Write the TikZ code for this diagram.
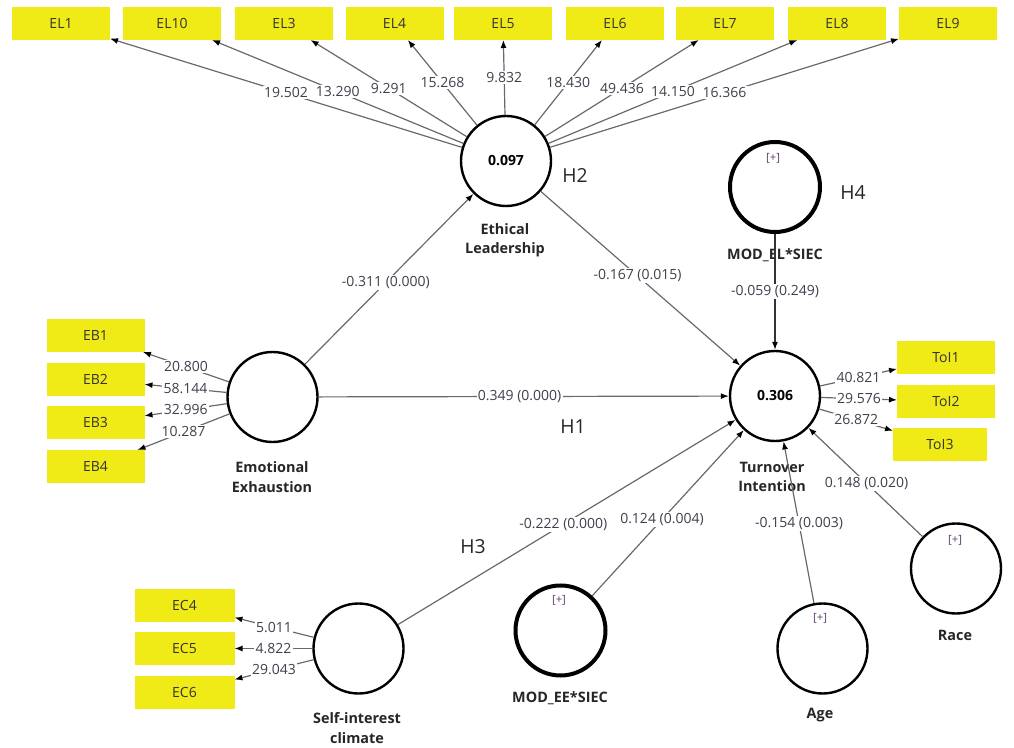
\documentclass[tikz,border=0pt]{standalone}
\usepackage{fontspec}
\setmainfont{Open Sans}
\usetikzlibrary{arrows.meta}
\definecolor{boxy}{RGB}{240,234,22}
\definecolor{lnc}{RGB}{105,105,105}
\definecolor{txc}{RGB}{62,64,76}
\definecolor{plusc}{RGB}{95,60,105}
\begin{document}
\begin{tikzpicture}[x=0.75pt,y=-0.75pt,
  ind/.style={fill=boxy,draw=none,minimum width=73.5pt,minimum height=24.75pt,inner sep=0pt,outer sep=0pt,font=\fontsize{10.5}{12}\selectfont,text=black!80},
  lat/.style={circle,draw=black,line width=1.8pt,minimum size=67.5pt,inner sep=0pt,font=\bfseries\fontsize{10.5}{12}\selectfont},
  modc/.style={lat,line width=3pt},
  conn/.style={draw=lnc,line width=0.9pt,-{Latex[length=6pt,width=4.5pt,color=black]}},
  wt/.style={fill=white,inner sep=1pt,font=\fontsize{10.5}{12}\selectfont,text=txc},
  lname/.style={font=\bfseries\fontsize{10.8}{14.5}\selectfont,align=center,text=black!85},
  hyp/.style={font=\fontsize{14.5}{16}\selectfont,text=black!85},
  plus/.style={font=\fontsize{8.5}{10}\selectfont,text=plusc}
]
\useasboundingbox (0,0) rectangle (1014,748);

% indicator boxes
\node[ind] (el1)  at (61,23.5)  {EL1};
\node[ind] (el10) at (172,23.5) {EL10};
\node[ind] (el3)  at (284,23.5) {EL3};
\node[ind] (el4)  at (394.5,23.5) {EL4};
\node[ind] (el5)  at (503,23.5) {EL5};
\node[ind] (el6)  at (615,23.5) {EL6};
\node[ind] (el7)  at (725,23.5) {EL7};
\node[ind] (el8)  at (837,23.5) {EL8};
\node[ind] (el9)  at (948,23.5) {EL9};

\node[ind] (eb1) at (95.5,335.5) {EB1};
\node[ind] (eb2) at (95.5,379.5) {EB2};
\node[ind] (eb3) at (95.5,423) {EB3};
\node[ind] (eb4) at (95.5,466.5) {EB4};

\node[ind,minimum width=75pt] (ec4) at (184.5,605) {EC4};
\node[ind,minimum width=75pt] (ec5) at (184.5,648.5) {EC5};
\node[ind,minimum width=75pt] (ec6) at (184.5,692) {EC6};

\node[ind] (toi1) at (946,358) {ToI1};
\node[ind] (toi2) at (946,401.5) {ToI2};
\node[ind,minimum width=70.5pt] (toi3) at (940,444.5) {ToI3};

% latent variables
\node[lat] (el) at (506,161) {0.097};
\node[lat] (ee) at (272.5,397) {};
\node[lat] (ti) at (775,396) {0.306};
\node[modc] (model) at (775,187) {};
\node[lat] (sic) at (358.5,648.5) {};
\node[modc] (modee) at (560.5,630.5) {};
\node[lat] (age) at (822.5,648.5) {};
\node[lat] (race) at (956,568.5) {};

% [+] marks
\node[plus] (pmodel) at (773,158) {[+]};
\node[plus] (pmodee) at (559,600) {[+]};
\node[plus] (page) at (820,618) {[+]};
\node[plus] (prace) at (955,540) {[+]};

% names
\node[lname] (nel) at (505,240) {Ethical\\Leadership};
\node[lname] (nee) at (272,477) {Emotional\\Exhaustion};
\node[lname] (nti) at (772,477) {Turnover\\Intention};
\node[lname] (nmodel) at (775,255) {MOD\_EL*SIEC};
\node[lname] (nsic) at (357,728) {Self-interest\\climate};
\node[lname] (nmodee) at (560,698) {MOD\_EE*SIEC};
\node[lname] (nage) at (820,715) {Age};
\node[lname] (nrace) at (955,635) {Race};

% hypotheses
\node[hyp] (h1) at (573,427) {H1};
\node[hyp] (h2) at (575,176) {H2};
\node[hyp] (h3) at (473,547) {H3};
\node[hyp] (h4) at (853,193) {H4};

% outer loadings
\draw[conn] (el) -- (el1)  node[wt,pos=.5] {19.502};
\draw[conn] (el) -- (el10) node[wt,pos=.5] {13.290};
\draw[conn] (el) -- (el3)  node[wt,pos=.5] {9.291};
\draw[conn] (el) -- (el4)  node[wt,pos=.5] {15.268};
\draw[conn] (el) -- (el5)  node[wt,pos=.5] {9.832};
\draw[conn] (el) -- (el6)  node[wt,pos=.5] {18.430};
\draw[conn] (el) -- (el7)  node[wt,pos=.5] {49.436};
\draw[conn] (el) -- (el8)  node[wt,pos=.5] {14.150};
\draw[conn] (el) -- (el9)  node[wt,pos=.5] {16.366};

\draw[conn] (ee) -- (eb1) node[wt,pos=.5] {20.800};
\draw[conn] (ee) -- (eb2) node[wt,pos=.5] {58.144};
\draw[conn] (ee) -- (eb3) node[wt,pos=.5] {32.996};
\draw[conn] (ee) -- (eb4) node[wt,pos=.5] {10.287};

\draw[conn] (sic) -- (ec4) node[wt,pos=.5] {5.011};
\draw[conn] (sic) -- (ec5) node[wt,pos=.5] {4.822};
\draw[conn] (sic) -- (ec6) node[wt,pos=.5] {29.043};

\draw[conn] (ti) -- (toi1) node[wt,pos=.5] {40.821};
\draw[conn] (ti) -- (toi2) node[wt,pos=.5] {29.576};
\draw[conn] (ti) -- (toi3) node[wt,pos=.5] {26.872};

% structural paths
\draw[conn] (ee) -- (el) node[wt,pos=.48] {-0.311 (0.000)};
\draw[conn] (el) -- (ti) node[wt,pos=.485] {-0.167 (0.015)};
\draw[conn] (ee) -- (ti) node[wt,pos=.49] {0.349 (0.000)};
\draw[conn,draw=black!80] (model) -- (ti) node[wt,pos=.5] {-0.059 (0.249)};
\draw[conn] (sic) -- (ti) node[wt,pos=.49] {-0.222 (0.000)};
\draw[conn] (modee) -- (ti) node[wt,pos=.46] {0.124 (0.004)};
\draw[conn] (age) -- (ti) node[wt,pos=.49] {-0.154 (0.003)};
\draw[conn] (race) -- (ti) node[wt,pos=.49] {0.148 (0.020)};
\end{tikzpicture}
\end{document}
